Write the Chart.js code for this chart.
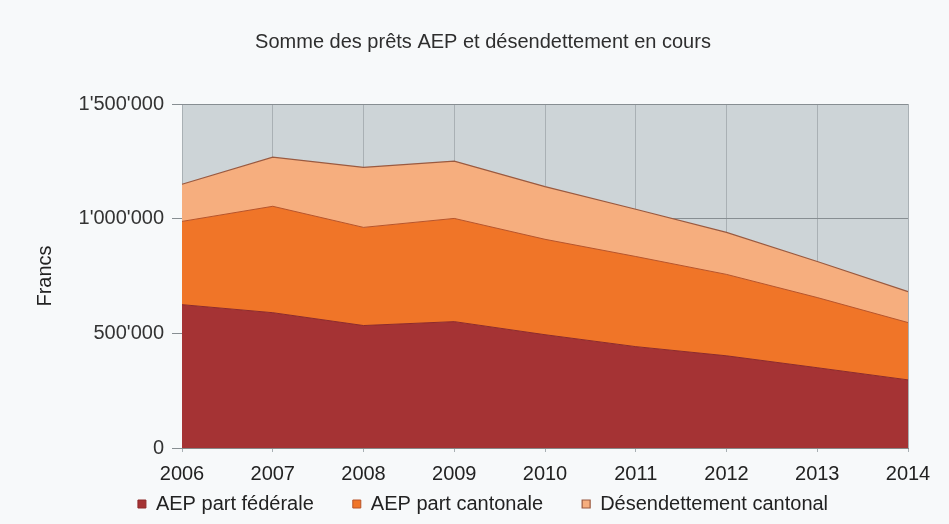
<!DOCTYPE html>
<html>
<head>
<meta charset="utf-8">
<script src="https://cdn.jsdelivr.net/npm/chart.js@4/dist/chart.umd.min.js"></script>
<style>
  html, body { margin: 0; padding: 0; background: #f7f9fa; }
  #wrap { width: 949px; height: 524px; }
</style>
</head>
<body>
<div id="wrap"><canvas id="chart" width="949" height="524"></canvas></div>
<script>
// Données (francs)
const annees = ['2006', '2007', '2008', '2009', '2010', '2011', '2012', '2013', '2014'];
const partFederale = [625000, 590000, 534000, 551000, 494000, 442000, 402000, 350000, 297000];
const partCantonale = [363000, 464000, 428000, 450000, 416000, 393000, 355000, 306000, 250000];
const desendettement = [162000, 214000, 262000, 250000, 230000, 206000, 183000, 157000, 135000];
const yTicks = [0, 500000, 1000000, 1500000];

// 1'500'000 style
function formatFrancs(v) {
  return String(v).replace(/\B(?=(\d{3})+(?!\d))/g, "'");
}

// fond gris de la zone de tracé
const plotBg = {
  id: 'plotBg',
  beforeDraw(chart) {
    const { ctx, chartArea: a } = chart;
    ctx.save();
    ctx.fillStyle = '#cdd4d7';
    ctx.fillRect(a.left, a.top, a.right - a.left, a.bottom - a.top);
    ctx.restore();
  }
};

// la légende garde un grand espacement entre les items mais remonte sous les années
const LEGEND_SHIFT = 31;
const legendNudge = {
  id: 'legendNudge',
  afterLayout(chart) {
    const lg = chart.legend;
    if (!lg) return;
    lg.top -= LEGEND_SHIFT;
    lg.bottom -= LEGEND_SHIFT;
  }
};

const FONT = '"Liberation Sans", Arial, sans-serif';

new Chart(document.getElementById('chart'), {
  type: 'line',
  data: {
    labels: annees,
    datasets: [
      {
        label: 'AEP part fédérale',
        data: partFederale,
        backgroundColor: '#a53334',
        borderColor: '#8e2a2a',
        borderWidth: 1,
        fill: 'origin'
      },
      {
        label: 'AEP part cantonale',
        data: partCantonale,
        backgroundColor: '#f07528',
        borderColor: '#b8542a',
        borderWidth: 1,
        fill: '-1'
      },
      {
        label: 'Désendettement cantonal',
        data: desendettement,
        backgroundColor: '#f6ae7e',
        borderColor: '#9a5a40',
        borderWidth: 1.2,
        fill: '-1'
      }
    ]
  },
  options: {
    responsive: false,
    animation: false,
    elements: { point: { radius: 0 }, line: { tension: 0 } },
    layout: { padding: { left: 58, right: 41, top: 0, bottom: -LEGEND_SHIFT } },
    plugins: {
      title: {
        display: true,
        text: 'Somme des prêts AEP et désendettement en cours',
        color: '#2e2e2e',
        font: { family: FONT, size: 20, weight: 'normal' },
        padding: { top: 30, bottom: 50 }
      },
      legend: {
        position: 'bottom',
        labels: {
          color: '#222',
          font: { family: FONT, size: 20 },
          boxWidth: 8,
          boxHeight: 8,
          padding: 39
        }
      },
      tooltip: { enabled: false }
    },
    scales: {
      x: {
        offset: false,
        grid: { color: '#a9b0b4', lineWidth: 1, drawTicks: true, tickLength: 4 },
        border: { color: '#888' },
        ticks: { color: '#222', font: { family: FONT, size: 20 }, maxRotation: 0, padding: 10 },
        afterFit(scale) { scale.height = 38; }
      },
      y: {
        stacked: true,
        min: 0,
        max: 1500000,
        afterBuildTicks(scale) { scale.ticks = yTicks.map(v => ({ value: v })); },
        grid: { color: '#878e92', lineWidth: 1, tickLength: 10 },
        border: { display: false },
        ticks: {
          color: '#333',
          font: { family: FONT, size: 20 },
          padding: 8,
          callback: v => formatFrancs(v)
        },
        title: {
          display: true,
          text: 'Francs',
          color: '#222',
          font: { family: FONT, size: 20 },
          padding: { top: -25, bottom: 0 }
        },
        afterFit(scale) { scale.width = 124; }
      }
    }
  },
  plugins: [plotBg, legendNudge]
});
</script>
</body>
</html>
